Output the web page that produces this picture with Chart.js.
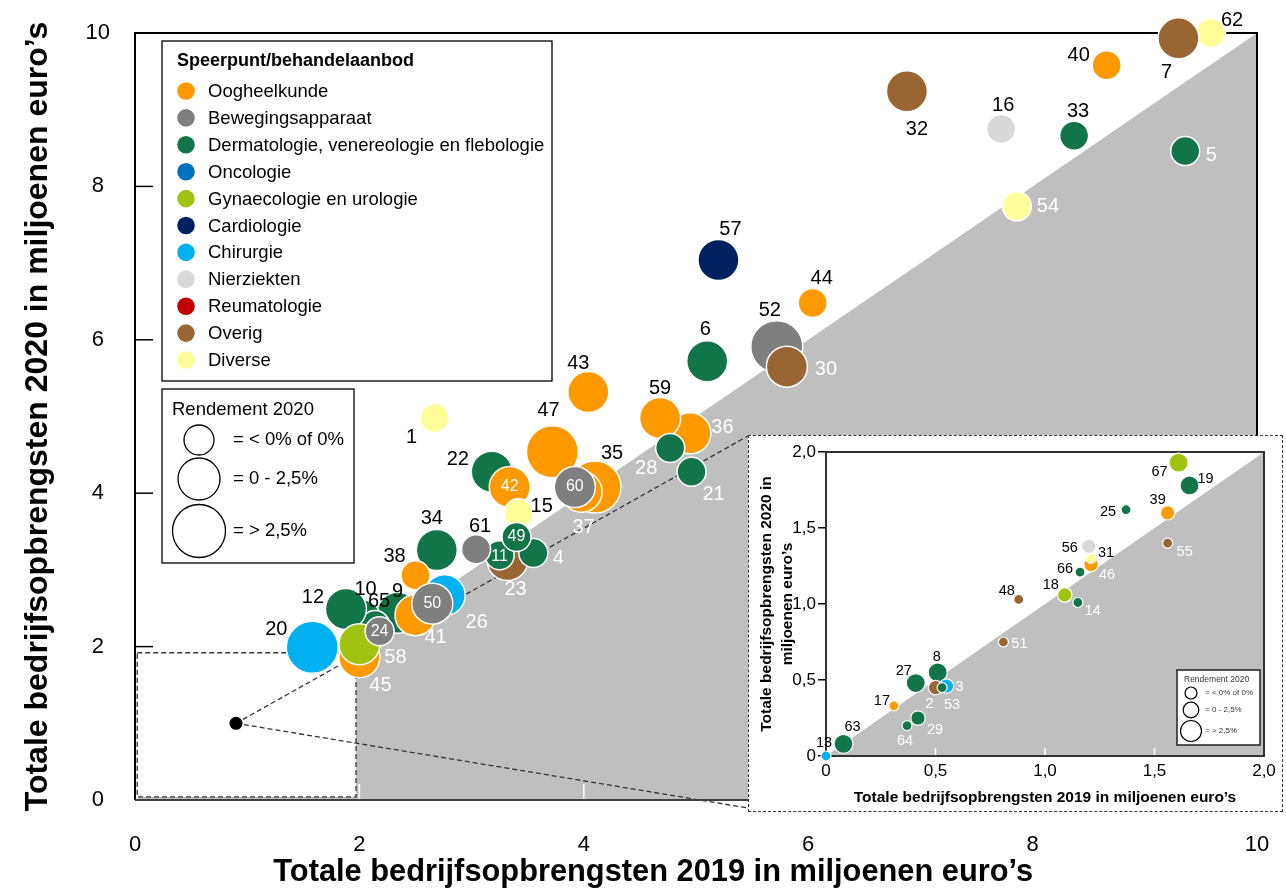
<!DOCTYPE html>
<html>
<head>
<meta charset="utf-8">
<script src="https://cdn.jsdelivr.net/npm/chart.js@4.4.1/dist/chart.umd.min.js"></script>
<style>
  html, body { margin: 0; padding: 0; background: #fff; }
  #wrap { position: relative; width: 1286px; height: 891px; }
  #mainChart { position: absolute; left: 0; top: 0; }
  #insetBox { position: absolute; left: 748px; top: 435px; width: 533px; height: 375px;
              border: 1.5px dashed #333; background: #fff; }
</style>
</head>
<body>
<div id="wrap">
  <canvas id="mainChart" width="1286" height="891" style="width:1286px;height:891px"></canvas>
  <div id="insetBox"><canvas id="insetChart" width="533" height="375" style="width:533px;height:375px"></canvas></div>
</div>
<script>
// Categories (speerpunt/behandelaanbod) and rendement classes
const categories = ['Oogheelkunde', 'Bewegingsapparaat', 'Dermatologie, venereologie en flebologie',
  'Oncologie', 'Gynaecologie en urologie', 'Cardiologie', 'Chirurgie', 'Nierziekten',
  'Reumatologie', 'Overig', 'Diverse'];
const rendementClasses = ['= < 0% of 0%', '= 0 - 2,5%', '= > 2,5%'];

// Main chart: organisations > 2 mln (drawing order = array order)
const mainIds   = [1, 62, 7, 40, 32, 16, 33, 5, 54, 57, 44, 52, 30, 6, 43, 36, 59, 28, 21, 47, 35, 37, 60, 22, 42, 15, 23, 11, 4, 49, 61, 34, 38, 9, 41, 26, 50, 10, 65, 12, 20, 45, 58, 24];
const mainX2019 = [2.67, 9.59, 9.30, 8.66, 6.88, 7.72, 8.37, 9.36, 7.86, 5.20, 6.04, 5.72, 5.81, 5.10, 4.04, 4.95, 4.68, 4.77, 4.96, 3.72, 4.10, 3.98, 3.92, 3.18, 3.34, 3.42, 3.32, 3.25, 3.55, 3.40, 3.04, 2.69, 2.50, 2.34, 2.50, 2.76, 2.65, 2.01, 2.14, 1.88, 1.58, 2.00, 2.00, 2.18];
const mainY2020 = [4.98, 10.00, 9.93, 9.58, 9.24, 8.75, 8.66, 8.46, 7.74, 7.04, 6.48, 5.91, 5.65, 5.72, 5.32, 4.78, 4.98, 4.59, 4.28, 4.54, 4.08, 4.02, 4.08, 4.28, 4.08, 3.74, 3.13, 3.19, 3.22, 3.43, 3.27, 3.26, 2.93, 2.44, 2.41, 2.67, 2.56, 2.35, 2.28, 2.49, 1.99, 1.86, 2.03, 2.20];
const mainCat   = [10, 10, 9, 0, 9, 7, 2, 2, 10, 5, 0, 1, 9, 2, 0, 0, 0, 2, 2, 0, 0, 0, 1, 2, 0, 10, 9, 2, 2, 2, 1, 2, 0, 2, 0, 6, 1, 2, 2, 2, 6, 0, 4, 1];
const mainRend  = [0, 0, 1, 0, 1, 0, 0, 0, 0, 1, 0, 2, 1, 1, 1, 1, 1, 0, 0, 2, 2, 1, 1, 1, 1, 0, 1, 0, 0, 0, 0, 1, 0, 1, 1, 1, 1, 1, 0, 1, 2, 1, 1, 0];

// Inset: organisations < 2 mln
const insetIds   = [13, 63, 64, 29, 17, 27, 8, 3, 2, 53, 51, 48, 18, 14, 66, 56, 46, 31, 55, 39, 25, 19, 67];
const insetX2019 = [0.00, 0.08, 0.37, 0.42, 0.31, 0.41, 0.51, 0.55, 0.50, 0.53, 0.81, 0.88, 1.09, 1.15, 1.16, 1.20, 1.21, 1.21, 1.56, 1.56, 1.37, 1.66, 1.61];
const insetY2020 = [0.00, 0.08, 0.20, 0.25, 0.33, 0.48, 0.55, 0.46, 0.45, 0.45, 0.75, 1.03, 1.06, 1.01, 1.21, 1.38, 1.26, 1.30, 1.40, 1.60, 1.62, 1.78, 1.93];
const insetCat   = [6, 2, 2, 2, 0, 2, 2, 6, 9, 2, 9, 9, 4, 2, 2, 7, 0, 10, 9, 0, 2, 2, 4];
const insetRend  = [0, 2, 0, 1, 0, 2, 2, 1, 1, 0, 0, 0, 1, 0, 0, 1, 1, 0, 0, 1, 0, 2, 2];

const mainTicks  = [0, 2, 4, 6, 8, 10];
const insetTicks = ['0', '0,5', '1,0', '1,5', '2,0'];
const xTitle = "Totale bedrijfsopbrengsten 2019 in miljoenen euro\u2019s";
const yTitle = "Totale bedrijfsopbrengsten 2020 in miljoenen euro\u2019s";

// styles
const catColors = ['#FF9900', '#7F7F7F', '#127449', '#0070C0', '#A0C312', '#002060',
  '#00B0F0', '#D9D9D9', '#C00000', '#996633', '#FFFF99'];
const mainRadius = [14.5, 20.5, 26];
const insetRadius = [5, 7.2, 9.5];
const FONT = '"Liberation Sans", Arial, Helvetica, sans-serif';
Chart.defaults.font.family = FONT;
Chart.defaults.color = '#000';

// label placement: [dx, dy, kind]  k = black outside, w = white outside, in = white inside
const mainLabelPos = {
  1: [-23, 19, 'k'], 62: [21, -13, 'k'], 7: [-12, 34, 'k'], 40: [-28, -10, 'k'], 32: [10, 38, 'k'],
  16: [2, -23, 'k'], 33: [4, -24, 'k'], 5: [26, 4, 'w'], 54: [31, 0, 'w'], 57: [12, -31, 'k'],
  44: [9, -24, 'k'], 52: [-7, -36, 'k'], 30: [39, 3, 'w'], 6: [-2, -32, 'k'], 43: [-10, -28, 'k'],
  59: [0, -30, 'k'], 36: [32, -6, 'w'], 28: [-24, 21, 'w'], 21: [22, 23, 'w'], 47: [-4, -41, 'k'],
  35: [17, -34, 'k'], 37: [2, 36, 'w'], 60: [0, 0, 'in'], 22: [-34, -12, 'k'], 42: [0, 0, 'in'],
  15: [23, -7, 'k'], 49: [0, 0, 'in'], 11: [0, 1, 'in'], 23: [8, 30, 'w'], 4: [25, 5, 'w'],
  61: [4, -23, 'k'], 34: [-5, -31, 'k'], 38: [-21, -19, 'k'], 50: [0, 0, 'in'], 26: [32, 27, 'w'],
  41: [20, 22, 'w'], 9: [0, -21, 'k'], 10: [5, -30, 'k'], 65: [4, -24, 'k'], 12: [-33, -12, 'k'],
  20: [-36, -18, 'k'], 45: [21, 28, 'w'], 58: [36, 13, 'w'], 24: [0, 0, 'in']
};
const insetLabelPos = {
  67: [-19, 9, 'k'], 19: [16, -6, 'k'], 25: [-18, 2, 'k'], 39: [-10, -13, 'k'], 55: [17, 9, 'w'],
  56: [-19, 2, 'k'], 31: [15, -5, 'k'], 46: [16, 11, 'w'], 66: [-15, -3, 'k'], 48: [-12, -8, 'k'],
  18: [-14, -10, 'k'], 14: [15, 9, 'w'], 51: [16, 2, 'w'], 8: [-1, -15, 'k'], 27: [-12, -12, 'k'],
  3: [13, 1, 'w'], 2: [-6, 16, 'w'], 53: [10, 17, 'w'], 17: [-12, -5, 'k'], 29: [17, 12, 'w'],
  64: [-2, 15, 'w'], 63: [9, -17, 'k'], 13: [-2, -13, 'k']
};

function drawLabels(chart, ids, place, size, inSize) {
  const ctx = chart.ctx;
  const meta = chart.getDatasetMeta(0);
  ctx.save();
  ctx.textAlign = 'center';
  ctx.textBaseline = 'middle';
  meta.data.forEach((el, i) => {
    const p = place[ids[i]] || [0, -20, 'k'];
    ctx.font = (p[2] === 'in' ? inSize : size) + 'px ' + FONT;
    ctx.fillStyle = p[2] === 'k' ? '#000' : '#fff';
    ctx.fillText(String(ids[i]), el.x + p[0], el.y + p[1]);
  });
  ctx.restore();
}

// no automatic padding from the tick labels
function noPad(s) { s.paddingLeft = 0; s.paddingRight = 0; s.paddingTop = 0; s.paddingBottom = 0; }

// ---------- main chart ----------
const mainBack = {
  id: 'mainBack',
  beforeDatasetsDraw(chart) {
    const ctx = chart.ctx, sx = chart.scales.x, sy = chart.scales.y;
    const a = chart.chartArea;
    ctx.save();
    // grey area below the diagonal
    ctx.fillStyle = '#BFBFBF';
    ctx.beginPath();
    ctx.moveTo(sx.getPixelForValue(0), sy.getPixelForValue(0));
    ctx.lineTo(sx.getPixelForValue(10), sy.getPixelForValue(10));
    ctx.lineTo(sx.getPixelForValue(10), sy.getPixelForValue(0));
    ctx.closePath();
    ctx.fill();
    // white tick marks inside
    ctx.strokeStyle = '#fff';
    ctx.lineWidth = 1.5;
    mainTicks.slice(1, -1).forEach(v => {
      const x = sx.getPixelForValue(v);
      ctx.beginPath(); ctx.moveTo(x, a.bottom); ctx.lineTo(x, a.bottom - 16); ctx.stroke();
    });
    // zoom region 0-2
    const rx0 = sx.getPixelForValue(0.02), rx1 = sx.getPixelForValue(1.97);
    const ry0 = sy.getPixelForValue(1.92), ry1 = sy.getPixelForValue(0.04);
    ctx.fillStyle = '#fff';
    ctx.fillRect(rx0, ry0, rx1 - rx0, ry1 - ry0);
    ctx.setLineDash([5, 3]);
    ctx.strokeStyle = '#333';
    ctx.lineWidth = 1.3;
    ctx.strokeRect(rx0, ry0, rx1 - rx0, ry1 - ry0);
    // connector lines to the inset
    const box = document.getElementById('insetBox');
    const dx = sx.getPixelForValue(0.9), dy = sy.getPixelForValue(1.0);
    ctx.beginPath();
    ctx.moveTo(dx, dy); ctx.lineTo(box.offsetLeft, box.offsetTop + 1);
    ctx.moveTo(dx, dy); ctx.lineTo(box.offsetLeft, box.offsetTop + box.offsetHeight - 4);
    ctx.stroke();
    ctx.setLineDash([]);
    ctx.fillStyle = '#000';
    ctx.beginPath(); ctx.arc(dx, dy, 6.5, 0, Math.PI * 2); ctx.fill();
    // frame
    ctx.strokeStyle = '#000';
    ctx.lineWidth = 2;
    ctx.beginPath();
    ctx.moveTo(a.left, a.bottom); ctx.lineTo(a.left, a.top); ctx.lineTo(a.right, a.top); ctx.lineTo(a.right, a.bottom);
    ctx.stroke();
    ctx.strokeStyle = '#404040';
    ctx.beginPath(); ctx.moveTo(a.left, a.bottom); ctx.lineTo(a.right, a.bottom); ctx.stroke();
    // inward y ticks
    ctx.strokeStyle = '#000';
    ctx.lineWidth = 1.5;
    mainTicks.slice(1, -1).forEach(v => {
      const y = sy.getPixelForValue(v);
      ctx.beginPath(); ctx.moveTo(a.left, y); ctx.lineTo(a.left + 18, y); ctx.stroke();
    });
    ctx.restore();
  },
  afterDatasetsDraw(chart) {
    drawLabels(chart, mainIds, mainLabelPos, 20, 16);
  },
  afterDraw(chart) {
    const ctx = chart.ctx;
    ctx.save();
    ctx.strokeStyle = '#000';
    ctx.lineWidth = 1.3;
    ctx.fillStyle = '#fff';
    // category legend
    ctx.fillRect(162, 41, 390, 340);
    ctx.strokeRect(162, 41, 390, 340);
    ctx.fillStyle = '#000';
    ctx.textBaseline = 'middle';
    ctx.textAlign = 'left';
    ctx.font = 'bold 18px ' + FONT;
    ctx.fillText('Speerpunt/behandelaanbod', 177, 61);
    ctx.font = '18.5px ' + FONT;
    categories.forEach((c, i) => {
      const y = 91 + i * 26.9;
      ctx.fillStyle = catColors[i];
      ctx.beginPath(); ctx.arc(186, y, 8.8, 0, Math.PI * 2); ctx.fill();
      ctx.fillStyle = '#000';
      ctx.fillText(c, 208, y + 1);
    });
    // rendement legend
    ctx.fillStyle = '#fff';
    ctx.fillRect(162, 389, 192, 174);
    ctx.strokeRect(162, 389, 192, 174);
    ctx.fillStyle = '#000';
    ctx.fillText('Rendement 2020', 172, 410);
    const ys = [440, 479, 531];
    rendementClasses.forEach((t, i) => {
      ctx.beginPath(); ctx.arc(199, ys[i], mainRadius[i] + 0.5, 0, Math.PI * 2); ctx.stroke();
      ctx.fillText(t, 233, ys[i]);
    });
    ctx.restore();
  }
};

new Chart(document.getElementById('mainChart'), {
  type: 'bubble',
  data: {
    datasets: [{
      data: mainIds.map((id, i) => ({ x: mainX2019[i], y: mainY2020[i], r: mainRadius[mainRend[i]] })),
      backgroundColor: mainCat.map(c => catColors[c]),
      borderColor: '#fff',
      borderWidth: 1.5,
      clip: false
    }]
  },
  options: {
    responsive: false,
    animation: false,
    events: [],
    layout: { autoPadding: false, padding: { top: 33, right: 29, left: 0, bottom: 0 } },
    plugins: { legend: { display: false }, tooltip: { enabled: false } },
    scales: {
      x: {
        type: 'linear', min: 0, max: 10,
        afterBuildTicks: s => { s.ticks = mainTicks.map(v => ({ value: v })); },
        afterFit: s => { s.height = 91; noPad(s); },
        grid: { display: false, drawTicks: false },
        border: { display: false },
        ticks: { font: { size: 22 }, color: '#000', padding: 32, maxRotation: 0 },
        title: { display: true, text: xTitle + '\u00a0'.repeat(10), font: { size: 30.8, weight: 'bold' }, color: '#000', padding: { top: 0, bottom: 0 } }
      },
      y: {
        type: 'linear', min: 0, max: 10,
        afterBuildTicks: s => { s.ticks = mainTicks.map(v => ({ value: v })); },
        afterFit: s => { s.width = 135; noPad(s); },
        grid: { display: false, drawTicks: false },
        border: { display: false },
        ticks: { font: { size: 22 }, color: '#000', padding: 25, crossAlign: 'center' },
        title: { display: true, text: yTitle, font: { size: 32, weight: 'bold' }, color: '#000', padding: { top: 19, bottom: 0 } }
      }
    }
  },
  plugins: [mainBack]
});

// ---------- inset chart ----------
const insetBack = {
  id: 'insetBack',
  beforeDatasetsDraw(chart) {
    const ctx = chart.ctx, sx = chart.scales.x, sy = chart.scales.y;
    const a = chart.chartArea;
    ctx.save();
    ctx.fillStyle = '#BFBFBF';
    ctx.beginPath();
    ctx.moveTo(sx.getPixelForValue(0), sy.getPixelForValue(0));
    ctx.lineTo(sx.getPixelForValue(2), sy.getPixelForValue(2));
    ctx.lineTo(sx.getPixelForValue(2), sy.getPixelForValue(0));
    ctx.closePath();
    ctx.fill();
    ctx.strokeStyle = '#fff';
    ctx.lineWidth = 1.5;
    [0.5, 1, 1.5].forEach(v => {
      const x = sx.getPixelForValue(v);
      ctx.beginPath(); ctx.moveTo(x, a.bottom); ctx.lineTo(x, a.bottom - 8); ctx.stroke();
    });
    ctx.strokeStyle = '#333';
    ctx.lineWidth = 2;
    ctx.strokeRect(a.left, a.top, a.right - a.left, a.bottom - a.top);
    ctx.restore();
  },
  afterDatasetsDraw(chart) {
    drawLabels(chart, insetIds, insetLabelPos, 14.5, 12);
    const ctx = chart.ctx;
    ctx.save();
    ctx.fillStyle = '#fff';
    ctx.strokeStyle = '#222';
    ctx.lineWidth = 1.5;
    ctx.fillRect(428, 234, 83, 75);
    ctx.strokeRect(428, 234, 83, 75);
    ctx.fillStyle = '#333';
    ctx.textBaseline = 'middle';
    ctx.font = '8.5px ' + FONT;
    ctx.fillText('Rendement 2020', 435, 244);
    const ys = [257, 274, 295], rs = [6, 7.8, 10.5];
    ctx.strokeStyle = '#000';
    ctx.lineWidth = 1.2;
    ctx.font = '8px ' + FONT;
    rendementClasses.forEach((t, i) => {
      ctx.beginPath(); ctx.arc(442, ys[i], rs[i], 0, Math.PI * 2); ctx.stroke();
      ctx.fillText(t, 456, ys[i]);
    });
    ctx.restore();
  }
};

new Chart(document.getElementById('insetChart'), {
  type: 'bubble',
  data: {
    datasets: [{
      data: insetIds.map((id, i) => ({ x: insetX2019[i], y: insetY2020[i], r: insetRadius[insetRend[i]] })),
      backgroundColor: insetCat.map(c => catColors[c]),
      borderColor: '#fff',
      borderWidth: 1.2,
      clip: false
    }]
  },
  options: {
    responsive: false,
    animation: false,
    events: [],
    layout: { autoPadding: false, padding: { top: 16, right: 18, left: 0, bottom: 0 } },
    plugins: { legend: { display: false }, tooltip: { enabled: false } },
    scales: {
      x: {
        type: 'linear', min: 0, max: 2,
        afterBuildTicks: s => { s.ticks = insetTicks.map((t, i) => ({ value: i * 0.5 })); },
        afterFit: s => { s.height = 55; noPad(s); },
        grid: { display: false, drawTicks: false },
        border: { display: false },
        ticks: { font: { size: 17 }, color: '#000', padding: 5, maxRotation: 0, callback: (v, i) => insetTicks[i] },
        title: { display: true, text: xTitle, font: { size: 15.5, weight: 'bold' }, color: '#000', padding: { top: 0, bottom: 4 } }
      },
      y: {
        type: 'linear', min: 0, max: 2,
        afterBuildTicks: s => { s.ticks = insetTicks.map((t, i) => ({ value: i * 0.5 })); },
        afterFit: s => { s.width = 77; noPad(s); },
        grid: { display: true, drawOnChartArea: false, drawTicks: true, tickLength: 8, color: '#000', lineWidth: 1.5 },
        border: { display: false },
        ticks: { font: { size: 17 }, color: '#000', padding: 2, callback: (v, i) => insetTicks[i] },
        title: { display: true, text: ['Totale bedrijfsopbrengsten 2020 in', 'miljoenen euro\u2019s'],
                 font: { size: 15.5, weight: 'bold', lineHeight: 1.35 }, color: '#000', padding: { top: 7, bottom: 0 } }
      }
    }
  },
  plugins: [insetBack]
});
</script>
</body>
</html>
